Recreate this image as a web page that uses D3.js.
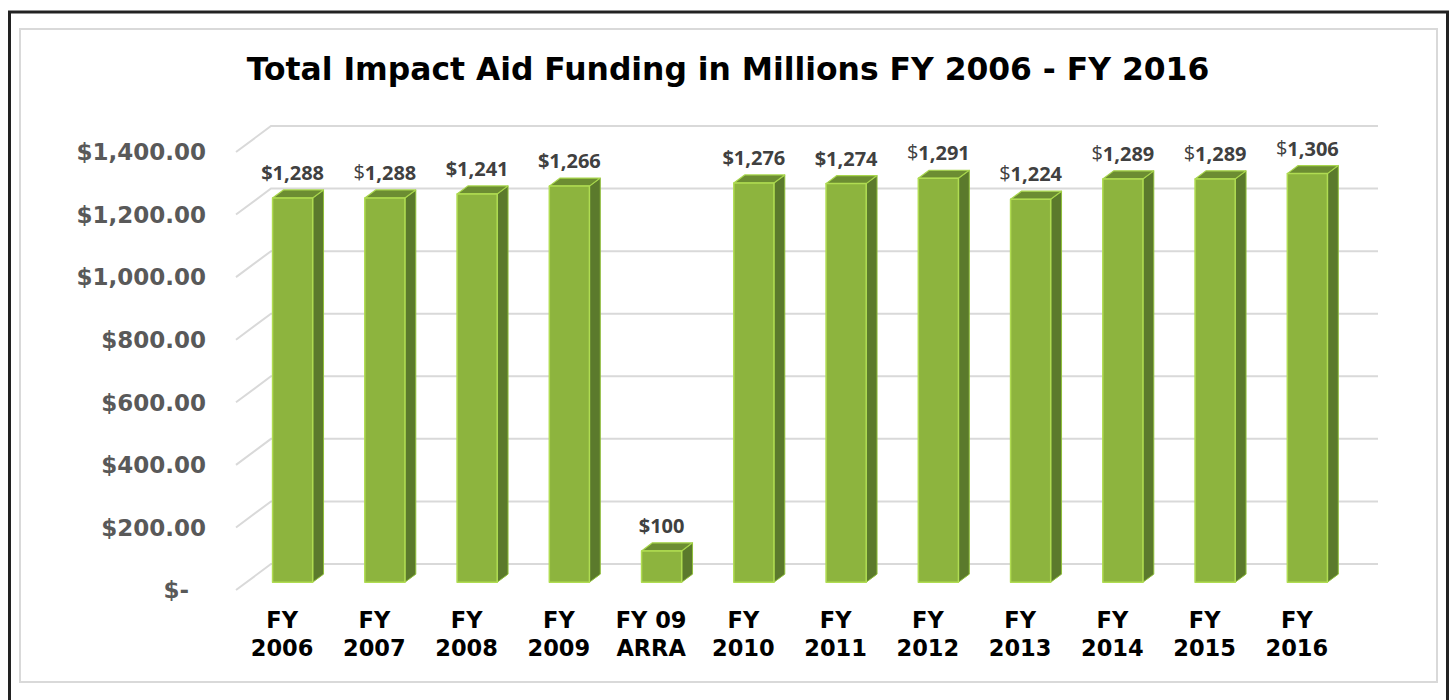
<!DOCTYPE html>
<html><head><meta charset="utf-8">
<script src="https://cdn.jsdelivr.net/npm/d3@7"></script>
<style>body{margin:0;background:#fff}</style></head>
<body><svg id="c" width="1452" height="700"></svg>
<script>
// ---- data ----
const title = "Total Impact Aid Funding in Millions FY 2006 - FY 2016";
const categories = ["FY 2006","FY 2007","FY 2008","FY 2009","FY 09 ARRA","FY 2010","FY 2011","FY 2012","FY 2013","FY 2014","FY 2015","FY 2016"];
const categoryLines = [["FY","2006"],["FY","2007"],["FY","2008"],["FY","2009"],["FY 09","ARRA"],["FY","2010"],["FY","2011"],["FY","2012"],["FY","2013"],["FY","2014"],["FY","2015"],["FY","2016"]];
// plotted bar heights (millions $)
const funding = [1228,1228,1241,1266,100,1276,1274,1291,1224,1289,1289,1306];
// data label texts as printed above the bars
const dataLabels = ["$1,288","$1,288","$1,241","$1,266","$100","$1,276","$1,274","$1,291","$1,224","$1,289","$1,289","$1,306"];
const plainDollar = [false,true,false,false,false,false,false,true,true,true,true,true];
const yTicks = [0,200,400,600,800,1000,1200,1400];
const yTickLabels = ["$-","$200.00","$400.00","$600.00","$800.00","$1,000.00","$1,200.00","$1,400.00"];

// ---- layout ----
const svg = d3.select("#c");
const W = 1452, H = 700;
svg.append("rect").attr("width",W).attr("height",H).attr("fill","#fff");

// outer black frame (open at bottom) and inner light frame
svg.append("path").attr("d","M9.5,705 L9.5,12 L1447.5,12 L1447.5,705")
  .attr("fill","none").attr("stroke","#222").attr("stroke-width",3);
svg.append("rect").attr("x",20).attr("y",29).attr("width",1417).attr("height",653)
  .attr("fill","none").attr("stroke","#d9d9d9").attr("stroke-width",2);

const DX = 35, DY = -26; // depth vector (front -> back wall)
const P = (px, py, d) => [px + d*DX, py + d*DY];
const xL = 236, xR = 1343;
const x = d3.scaleBand().domain(categories).range([xL, xR]).paddingInner(0.565).paddingOuter(0.2825);
const y = d3.scaleLinear().domain([0,1400]).range([590,152]);

// gridlines: left wall diagonal + back wall horizontal
const grid = svg.append("g");
yTicks.forEach(t => {
  const a = P(xL, y(t), 0), b = P(xL, y(t), 1), c = P(xR, y(t), 1);
  grid.append("path").attr("d", `M${a}L${b}L${c}`)
    .attr("fill","none").attr("stroke","#d9d9d9").attr("stroke-width",2);
});

// y tick labels
svg.append("g").selectAll("text").data(yTicks).join("text")
  .attr("x", (d) => d === 0 ? 189 : 206)
  .attr("y", d => y(d))
  .attr("dy","0.36em")
  .attr("text-anchor","end")
  .attr("font-family","DejaVu Sans, Verdana, sans-serif")
  .attr("font-weight","bold").attr("font-size",23).attr("fill","#595959")
  .text((d,i) => yTickLabels[i]);

// bars
const dF = 0.3, dB = 0.61;
const bw = x.bandwidth();
const bars = svg.append("g");
const poly = pts => "M" + pts.map(p => p.join(",")).join("L") + "Z";
categories.forEach((c, i) => {
  const v = funding[i];
  const x0 = x(c), x1 = x0 + bw, yt = y(v), yb = y(0);
  const g = bars.append("g");
  g.append("path").attr("d", poly([P(x1,yt,dF),P(x1,yt,dB),P(x1,yb,dB),P(x1,yb,dF)]))
    .attr("fill","#5b7a2c").attr("stroke","#8fbf3a").attr("stroke-width",1).attr("stroke-linejoin","round");
  g.append("path").attr("d", poly([P(x0,yt,dF),P(x1,yt,dF),P(x1,yt,dB),P(x0,yt,dB)]))
    .attr("fill","#6c8d32").attr("stroke","#a8d64c").attr("stroke-width",1.2).attr("stroke-linejoin","round");
  g.append("path").attr("d", poly([P(x0,yt,dF),P(x1,yt,dF),P(x1,yb,dF),P(x0,yb,dF)]))
    .attr("fill","#8db43e").attr("stroke","#b0dc52").attr("stroke-width",1.5).attr("stroke-linejoin","round");
  // data label
  const lp = P(x0 + bw/2, yt, dF);
  const t = svg.append("text").attr("x", lp[0]).attr("y", lp[1] - 18)
    .attr("text-anchor","middle")
    .attr("font-family","Open Sans, sans-serif").attr("font-weight","bold")
    .attr("font-size",20).attr("fill","#404040");
  const s = dataLabels[i];
  if (plainDollar[i]) {
    t.append("tspan").attr("font-weight","normal").attr("dy",-1).text(s[0]);
    t.append("tspan").attr("dy",1).text(s.slice(1));
  } else t.text(s);
});

// x labels
categories.forEach((c, i) => {
  const cx = x(c) + bw/2;
  const t = svg.append("text").attr("text-anchor","middle")
    .attr("font-family","DejaVu Sans, Verdana, sans-serif").attr("font-weight","bold")
    .attr("font-size",22.5).attr("fill","#000");
  categoryLines[i].forEach((ln, k) => {
    t.append("tspan").attr("x", cx).attr("y", 628 + k*28).text(ln);
  });
});

// title, fitted to its width in the reference
const tt = svg.append("text").attr("x",728).attr("y",80).attr("text-anchor","middle")
  .attr("font-family","DejaVu Sans, Verdana, sans-serif").attr("font-weight","bold")
  .attr("font-size",30).attr("fill","#000").text(title);
const tw = tt.node().getComputedTextLength();
tt.attr("font-size", 30 * 963 / tw);
</script></body></html>
